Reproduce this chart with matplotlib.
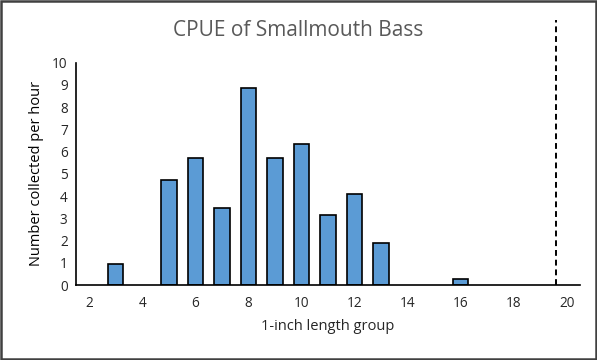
import matplotlib.pyplot as plt
import matplotlib as mpl
from matplotlib.patches import Rectangle

mpl.rcParams.update({
    "font.family": ["Open Sans", "DejaVu Sans"],
    "font.size": 9,
})

# 1-inch length groups and catch per hour
lengths = list(range(2, 21))
cpue = [0, 0.93, 0, 4.72, 5.70, 3.48, 8.85, 5.70, 6.34, 3.16, 4.11, 1.90,
        0, 0, 0.28, 0, 0, 0, 0]
tick_labels = [str(v) for v in range(2, 21, 2)]
cutoff = 19.6  # dashed reference line

BAR = "#5B9BD5"
TEXT = "#262626"

fig = plt.figure(figsize=(5.97, 3.6), dpi=100)
ax = fig.add_axes([0.1273, 0.2083, 0.8442, 0.6175])

# empty groups get no bar outline
x = [v - 2 for v, c in zip(lengths, cpue) if c > 0]
h = [c for c in cpue if c > 0]
ax.bar(x, h, width=0.58, color=BAR, edgecolor="black", linewidth=1.2, zorder=2)

ax.set_xlim(-0.5, len(lengths) - 0.5)
ax.set_ylim(0, 10)
ax.set_yticks(range(0, 11))
ax.set_xticks([v - 2 for v in range(2, 21, 2)])
ax.set_xticklabels(tick_labels)
ax.tick_params(axis="both", length=0, labelsize=9.8, colors=TEXT)
ax.tick_params(axis="x", pad=8)
ax.tick_params(axis="y", pad=6)

for s in ["top", "right"]:
    ax.spines[s].set_visible(False)
ax.spines["left"].set_color("black")
ax.spines["bottom"].set_color("black")
ax.spines["left"].set_linewidth(1.2)
ax.spines["bottom"].set_linewidth(1.2)

# dashed line reaching above the plot area
ax.plot([cutoff - 2, cutoff - 2], [0, 11.9], color="black", linewidth=1.4,
        linestyle=(0, (3, 2)), clip_on=False, zorder=3)

ax.set_xlabel("1-inch length group", fontsize=10.5, color=TEXT, labelpad=6)
ax.set_ylabel("Number collected per hour", fontsize=10.5, color="black", labelpad=6)

fig.text(0.5, 0.915, "CPUE of Smallmouth Bass", ha="center", va="center",
         fontsize=15, color="#595959")

fig.patches.append(Rectangle((0.002, 0.003), 0.996, 0.994, transform=fig.transFigure,
                             fill=False, edgecolor="#404040", linewidth=1.8))

fig.savefig("out.png", dpi=100, facecolor="white")
